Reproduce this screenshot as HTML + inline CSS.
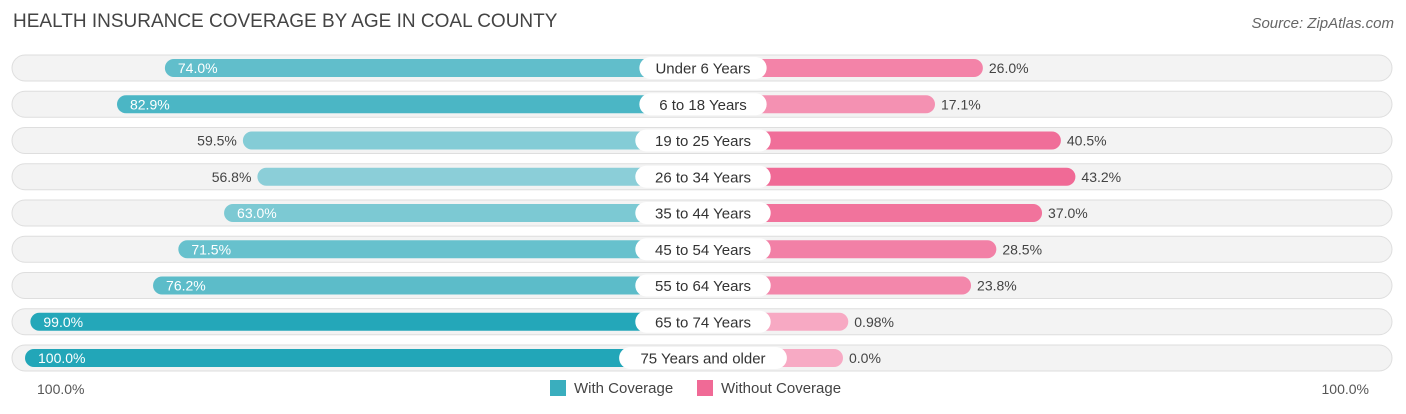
<!DOCTYPE html>
<html><head><meta charset="utf-8"><style>
body{margin:0;width:1406px;height:414px;background:#fff;font-family:"Liberation Sans",sans-serif;overflow:hidden;position:relative}
.t{position:absolute;white-space:nowrap}
</style></head><body>
<div class="t" style="left:13px;top:11px;font-size:19px;color:#444">HEALTH INSURANCE COVERAGE BY AGE IN COAL COUNTY</div>
<div class="t" style="right:12px;top:15px;font-size:15px;color:#666;font-style:italic">Source: ZipAtlas.com</div>
<svg id="c" width="1406" height="414" style="position:absolute;left:0;top:0"></svg>
<script>
const categories=["Under 6 Years","6 to 18 Years","19 to 25 Years","26 to 34 Years","35 to 44 Years","45 to 54 Years","55 to 64 Years","65 to 74 Years","75 Years and older"];
const withCov=[74.0,82.9,59.5,56.8,63.0,71.5,76.2,99.0,100.0];
const withoutCov=[26.0,17.1,40.5,43.2,37.0,28.5,23.8,0.98,0.0];
const withLabels=["74.0%","82.9%","59.5%","56.8%","63.0%","71.5%","76.2%","99.0%","100.0%"];
const withoutLabels=["26.0%","17.1%","40.5%","43.2%","37.0%","28.5%","23.8%","0.98%","0.0%"];
const NS="http://www.w3.org/2000/svg",svg=document.getElementById('c');
const k=5.38,cx=703,lz=563,rz=843;
function xl(v){return lz-k*v}
function xr(v){return rz+k*v}
function rowY(i){return 68+i*36.25}
function mix(a,b,t){return 'rgb('+a.map((x,j)=>Math.round(x+(b[j]-x)*t)).join(',')+')'}
function mk(tag,attrs){const e=document.createElementNS(NS,tag);for(const a in attrs)e.setAttribute(a,attrs[a]);svg.appendChild(e);return e}
categories.forEach((c,i)=>{
  const y=rowY(i);
  const bg=mk('rect',{x:12,y:y-13,width:1380,height:26,rx:13,fill:'#f3f3f3',stroke:'#dedede'});
  
  
  const v=withCov[i],x=xl(v);
  const lb=mk('rect',{x:x,y:y-9,width:cx-x,height:18,rx:9,fill:mix([143,208,217],[34,166,184],Math.max(0,(v-55)/45))});
  
  
  const w=withoutCov[i],xe=xr(w);
  const rb=mk('rect',{x:cx,y:y-9,width:xe-cx,height:18,rx:9,fill:mix([247,170,196],[240,106,150],Math.min(1,w/43))});
  
  
  const inside=v>=62;
  const t1=mk('text',{x:inside?x+13:x-6,y:y+5,'font-size':14,fill:inside?'#fff':'#444','text-anchor':inside?'start':'end'});
  t1.textContent=withLabels[i];
  
  
  const t2=mk('text',{x:xe+6,y:y+5,'font-size':14,fill:'#444'});
  t2.textContent=withoutLabels[i];
  
  
  const tw=c.length*8.1+22;
  const p=mk('rect',{x:cx-tw/2,y:y-11,width:tw,height:22,rx:11,fill:'#fff'});
  
  
  const t3=mk('text',{x:cx,y:y+5.5,'font-size':15,fill:'#333','text-anchor':'middle'});
  t3.textContent=c;
  
  
});
</script>
<div class="t" style="left:37px;top:381px;font-size:14px;color:#555">100.0%</div>
<div class="t" style="right:37px;top:381px;font-size:14px;color:#555">100.0%</div>
<div class="t" style="left:550px;top:380px;font-size:15px;color:#444"><span style="display:inline-block;width:16px;height:16px;background:#3aaebe;vertical-align:-3px;margin-right:8px"></span>With Coverage</div>
<div class="t" style="left:697px;top:380px;font-size:15px;color:#444"><span style="display:inline-block;width:16px;height:16px;background:#f06a96;vertical-align:-3px;margin-right:8px"></span>Without Coverage</div>
</body></html>
